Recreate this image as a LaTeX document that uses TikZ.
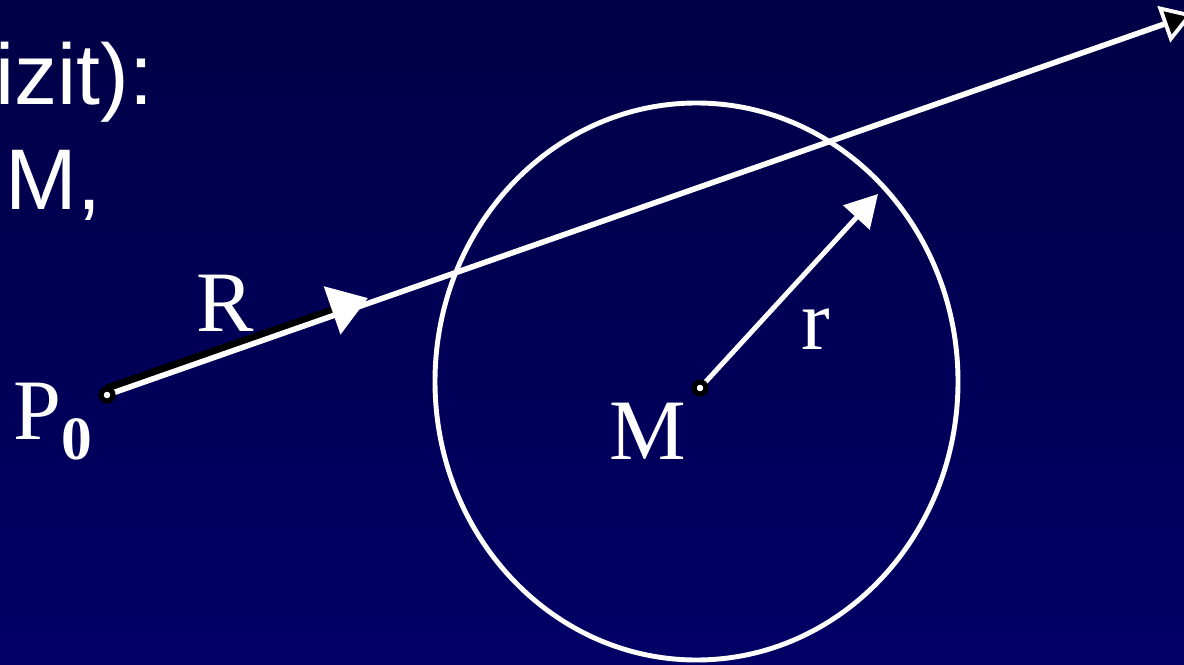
\documentclass[tikz,border=0pt]{standalone}
\usepackage{fontspec}
\setmainfont{Liberation Serif}
\newfontfamily\slidesans{Liberation Sans}
\usetikzlibrary{arrows.meta, positioning}
\definecolor{navytop}{RGB}{0,0,70}
\definecolor{navybot}{RGB}{0,0,102}

\begin{document}
\begin{tikzpicture}[
  lbl/.style={text=white, inner sep=0pt, font=\fontsize{49}{58}\selectfont},
  slide/.style={text=white, inner sep=0pt, anchor=base west, font=\slidesans\fontsize{49}{58}\selectfont},
  dot/.style={circle, draw=black, fill=white, line width=3pt, minimum size=0.24cm, inner sep=0pt},
  ray/.style={white, line width=3.2pt, -{Triangle[length=0.62cm, width=0.76cm, fill=black, color=white, line width=2.2pt]}},
  vecR/.style={black, line width=4.6pt, -{Triangle[length=0.76cm, width=0.98cm, white]}},
  vecr/.style={white, line width=2.8pt, -{Triangle[length=0.64cm, width=0.7cm]}}
]
\shade[top color=navytop, bottom color=navybot] (0,0) rectangle (23.68,13.28);
\useasboundingbox (0,0) rectangle (23.68,13.28);
% slide text
\node[slide] (head) at (-0.1,11.18) {izit):};
\node[slide] (line) at (0.1,9.08) {M,};
% points
\coordinate (pnull) at (2.14,5.38);
\coordinate (mid)   at (14.0,5.52);
\coordinate (rtip)  at (7.36,7.22);
\coordinate (far)   at (23.86,13.0);
\coordinate (edge)  at (17.56,9.40);
% sphere
\draw[white, line width=2.8pt] (13.93,5.65) ellipse [x radius=5.23cm, y radius=5.57cm];
\draw[vecR] ([yshift=0.13cm]pnull) -- ([yshift=0.1cm]rtip);
\draw[ray] (pnull) -- (far);
\draw[vecr] (mid) -- (edge);
\node[dot] (p0dot) at (pnull) {};
\node[dot] (mdot)  at (mid) {};
% labels
\node[lbl, anchor=base] (lR) at (4.5,6.64) {R};
\node[lbl, anchor=base] (lr) at (16.32,6.28) {r};
\node[lbl, anchor=base] (lM) at (12.96,4.08) {M};
\node[lbl, anchor=base west] (lP) at (0.27,4.48) {P\raisebox{-0.4cm}{\fontsize{35}{40}\selectfont\bfseries 0}};
\end{tikzpicture}
\end{document}
